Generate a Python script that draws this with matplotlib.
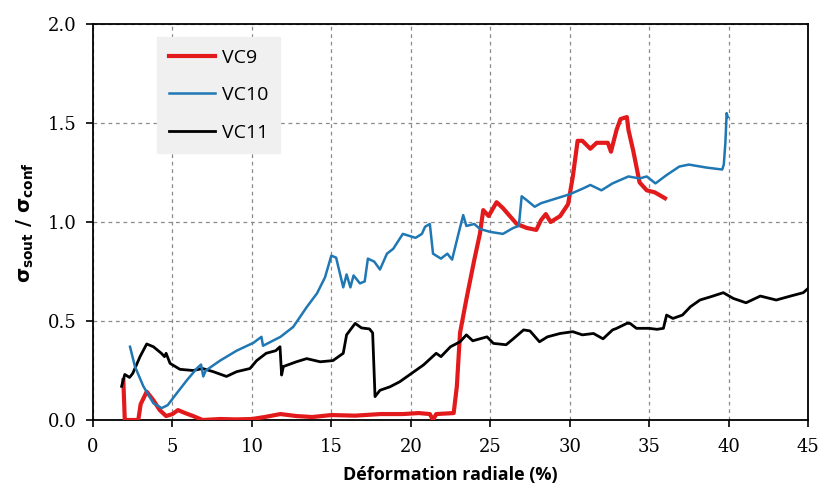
import matplotlib
matplotlib.use("Agg")
from matplotlib import pyplot as plt

# VC9 (red)
vc9_x = [1.91, 2.0, 2.85, 3.0, 3.38, 3.8, 4.2, 4.6, 5.0, 5.35, 5.8, 6.3, 6.9, 8.0, 9.0, 10.0,
         10.8, 11.8, 12.8, 13.8, 15.0, 16.5, 18.1, 19.5, 20.5, 21.2, 21.4, 21.6, 22.7,
         22.9, 23.1, 23.5, 24.0, 24.35, 24.56, 24.9, 25.4, 25.8, 26.67, 27.3, 27.9, 28.2,
         28.5, 28.8, 29.4, 29.9, 30.2, 30.5, 30.8, 31.3, 31.7, 32.4, 32.6, 32.95, 33.2,
         33.6, 33.7, 34.0, 34.4, 34.85, 35.35, 36.0]
vc9_y = [0.20, 0.0, 0.0, 0.08, 0.143, 0.10, 0.05, 0.02, 0.03, 0.05, 0.035, 0.02, 0.0, 0.005,
         0.003, 0.005, 0.015, 0.03, 0.02, 0.015, 0.025, 0.022, 0.03, 0.03, 0.035, 0.03,
         0.0, 0.03, 0.035, 0.17, 0.44, 0.61, 0.81, 0.94, 1.06, 1.03, 1.10, 1.07, 0.99,
         0.97, 0.96, 1.01, 1.04, 1.00, 1.03, 1.09, 1.23, 1.41, 1.41, 1.37, 1.40, 1.40,
         1.355, 1.465, 1.52, 1.53, 1.465, 1.36, 1.20, 1.16, 1.15, 1.12]

# VC10 (blue)
vc10_x = [2.33, 2.64, 3.17, 3.8, 4.32, 4.7, 5.27, 5.9, 6.53, 6.8, 6.94, 7.1, 8.0, 9.04,
          10.1, 10.6, 10.7, 11.8, 12.6, 13.45, 14.1, 14.6, 15.0, 15.3, 15.75, 15.96, 16.2,
          16.4, 16.8, 17.1, 17.3, 17.7, 18.06, 18.5, 18.9, 19.5, 20.3, 20.7, 20.9, 21.2,
          21.4, 21.9, 22.3, 22.6, 23.0, 23.3, 23.5, 24.0, 24.35, 25.0, 25.8, 26.45, 26.8,
          26.98, 27.3, 27.8, 28.2, 29.2, 30.0, 30.86, 31.3, 32.0, 32.7, 33.7, 34.4, 34.85,
          35.4, 36.1, 36.9, 37.5, 38.6, 39.6, 39.7, 39.8, 39.88, 39.95]
vc10_y = [0.37, 0.27, 0.17, 0.085, 0.06, 0.075, 0.135, 0.20, 0.26, 0.28, 0.22, 0.25, 0.30,
          0.35, 0.39, 0.42, 0.375, 0.42, 0.47, 0.57, 0.64, 0.72, 0.83, 0.82, 0.67, 0.735,
          0.67, 0.73, 0.69, 0.70, 0.815, 0.80, 0.76, 0.84, 0.865, 0.94, 0.92, 0.94, 0.976,
          0.99, 0.84, 0.815, 0.84, 0.81, 0.94, 1.035, 0.98, 0.99, 0.965, 0.95, 0.94, 0.97,
          0.98, 1.13, 1.11, 1.077, 1.095, 1.12, 1.14, 1.17, 1.187, 1.16, 1.195, 1.23, 1.22,
          1.23, 1.195, 1.237, 1.28, 1.29, 1.275, 1.265, 1.29, 1.40, 1.55, 1.53]

# VC11 (black)
vc11_x = [1.8, 2.0, 2.3, 2.5, 2.96, 3.38, 3.8, 4.3, 4.5, 4.6, 4.85, 5.47, 6.3, 6.9, 7.57,
          8.4, 9.04, 9.88, 10.3, 10.9, 11.5, 11.77, 11.87, 11.98, 12.8, 13.45, 14.3, 15.1,
          15.75, 15.96, 16.5, 16.9, 17.4, 17.6, 17.75, 18.06, 18.7, 19.3, 20.06, 20.8,
          21.6, 21.9, 22.5, 23.1, 23.5, 23.9, 24.8, 25.2, 26.0, 26.45, 27.1, 27.5, 28.1,
          28.6, 29.4, 30.2, 30.8, 31.5, 32.1, 32.7, 32.96, 33.6, 33.8, 34.2, 35.0, 35.5,
          35.9, 36.1, 36.5, 37.1, 37.6, 38.2, 38.9, 39.67, 40.3, 41.1, 42.0, 43.0, 43.9,
          44.7, 45.0]
vc11_y = [0.17, 0.23, 0.215, 0.235, 0.32, 0.384, 0.37, 0.337, 0.32, 0.337, 0.286, 0.256,
          0.25, 0.26, 0.244, 0.22, 0.244, 0.26, 0.30, 0.337, 0.35, 0.37, 0.227, 0.27,
          0.294, 0.31, 0.294, 0.30, 0.337, 0.43, 0.488, 0.465, 0.46, 0.44, 0.118, 0.15,
          0.168, 0.193, 0.236, 0.278, 0.337, 0.32, 0.37, 0.395, 0.43, 0.40, 0.42, 0.387,
          0.38, 0.41, 0.455, 0.45, 0.395, 0.42, 0.437, 0.446, 0.43, 0.437, 0.41, 0.455,
          0.463, 0.488, 0.488, 0.463, 0.463, 0.458, 0.463, 0.53, 0.513, 0.53, 0.572,
          0.606, 0.623, 0.643, 0.614, 0.592, 0.626, 0.606, 0.626, 0.643, 0.664]

xticks = [0, 5, 10, 15, 20, 25, 30, 35, 40, 45]
yticks = [0.0, 0.5, 1.0, 1.5, 2.0]

fig = plt.figure(figsize=(8.22, 4.93), dpi=100)
ax = fig.add_axes([93 / 822, 73 / 493, 715 / 822, 396 / 493])

ax.plot(vc9_x, vc9_y, color="#e31a1c", lw=3.0, label="VC9", zorder=3)
ax.plot(vc10_x, vc10_y, color="#1f77b4", lw=1.8, label="VC10", zorder=4)
ax.plot(vc11_x, vc11_y, color="black", lw=2.0, label="VC11", zorder=3)

ax.set_xlim(0, 45)
ax.set_ylim(0, 2.0)
ax.set_xticks(xticks)
ax.set_yticks(yticks)
ax.set_xticklabels([str(t) for t in xticks], family="DejaVu Serif", fontsize=13)
ax.set_yticklabels(["%.1f" % t for t in yticks], family="DejaVu Serif", fontsize=13)
ax.tick_params(direction="out", length=5, width=1.2, color="black")
ax.tick_params(axis="x", pad=8)
ax.tick_params(axis="y", pad=7)
ax.grid(True, color="#8a8a8a", ls=(0, (3, 3)), lw=0.9)
for s in ax.spines.values():
    s.set_linewidth(1.3)

ax.set_xlabel("Déformation radiale (%)", fontsize=13, fontweight="bold", family="Open Sans", labelpad=7)
ax.set_ylabel(r"$\mathbf{\sigma}_{\mathbf{sout}}$ / $\mathbf{\sigma}_{\mathbf{conf}}$",
              fontsize=14, fontweight="bold", labelpad=8)

leg = ax.legend(loc="upper left", bbox_to_anchor=(0.0895, 0.967), frameon=True,
                handlelength=2.4, labelspacing=1.0, borderpad=0.6, borderaxespad=0,
                handletextpad=0.35, fancybox=False, prop={"family": "Open Sans", "size": 14})
leg.get_frame().set_facecolor("#f0f0f0")
leg.get_frame().set_edgecolor("#f0f0f0")
leg.get_frame().set_alpha(1)

fig.savefig("out.png", dpi=100)
